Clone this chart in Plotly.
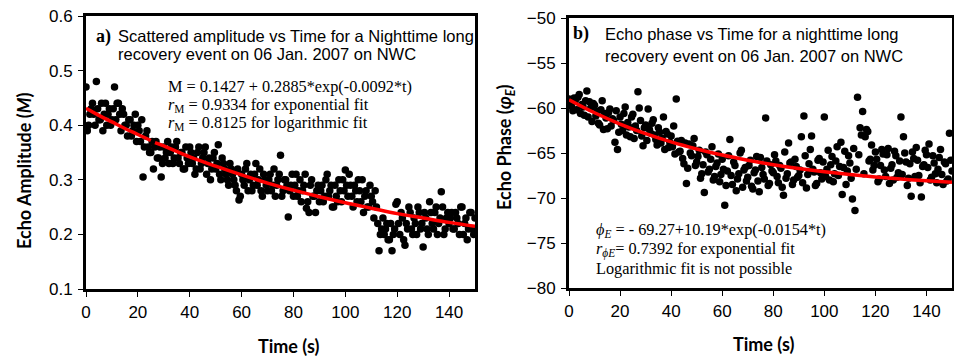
import plotly.graph_objects as go

W, H = 954, 358

# ---------------- data ----------------
# panel a: echo amplitude (set A at integer seconds, set B at half seconds)
time_a = list(range(0, 151))
amp_a = [0.47, 0.40, 0.43, 0.42, 0.48, 0.41, 0.44, 0.42, 0.40, 0.43,
         0.41, 0.47, 0.44, 0.42, 0.43, 0.40, 0.38, 0.41, 0.39, 0.42,
         0.40, 0.37, 0.305, 0.38, 0.36, 0.35, 0.32, 0.37, 0.34, 0.305,
         0.36, 0.35, 0.33, 0.36, 0.34, 0.37, 0.33, 0.35, 0.32, 0.34,
         0.36, 0.33, 0.31, 0.35, 0.32, 0.34, 0.36, 0.33, 0.30, 0.34,
         0.32, 0.364, 0.30, 0.33, 0.31, 0.29, 0.32, 0.30, 0.28, 0.263,
         0.31, 0.29, 0.33, 0.30, 0.28, 0.31, 0.29, 0.32, 0.27, 0.30,
         0.28, 0.31, 0.29, 0.27, 0.30, 0.345, 0.28, 0.30, 0.232, 0.29,
         0.27, 0.31, 0.28, 0.26, 0.29, 0.248, 0.24, 0.30, 0.27, 0.28,
         0.26, 0.29, 0.27, 0.31, 0.28, 0.25, 0.29, 0.26, 0.28, 0.30,
         0.318, 0.27, 0.29, 0.25, 0.28, 0.30, 0.26, 0.24, 0.28, 0.25,
         0.27, 0.23, 0.25, 0.17, 0.21, 0.20, 0.22, 0.19, 0.17, 0.21,
         0.26, 0.20, 0.23, 0.18, 0.21, 0.24, 0.20, 0.22, 0.25, 0.21,
         0.177, 0.23, 0.20, 0.24, 0.21, 0.25, 0.22, 0.278, 0.20, 0.23,
         0.22, 0.24, 0.21, 0.23, 0.20, 0.25, 0.22, 0.19, 0.24, 0.21, 0.23]
time_b = [t + 0.5 for t in range(0, 150)]
amp_b = [0.39, 0.42, 0.44, 0.40, 0.43, 0.41, 0.39, 0.44, 0.42, 0.40,
         0.43, 0.41, 0.44, 0.39, 0.42, 0.40, 0.41, 0.38, 0.40, 0.37,
         0.39, 0.41, 0.36, 0.39, 0.35, 0.37, 0.36, 0.34, 0.36, 0.33,
         0.34, 0.37, 0.35, 0.33, 0.36, 0.34, 0.35, 0.32, 0.36, 0.33,
         0.35, 0.34, 0.32, 0.36, 0.33, 0.35, 0.31, 0.34, 0.32, 0.35,
         0.33, 0.31, 0.34, 0.32, 0.30, 0.33, 0.31, 0.29, 0.32, 0.27,
         0.30, 0.32, 0.28, 0.31, 0.29, 0.33, 0.30, 0.28, 0.31, 0.29,
         0.30, 0.28, 0.32, 0.29, 0.31, 0.27, 0.30, 0.29, 0.28, 0.31,
         0.29, 0.27, 0.30, 0.28, 0.31, 0.26, 0.29, 0.27, 0.24, 0.29,
         0.28, 0.26, 0.30, 0.27, 0.29, 0.25, 0.27, 0.30, 0.26, 0.28,
         0.29, 0.31, 0.27, 0.29, 0.26, 0.28, 0.30, 0.27, 0.25, 0.29,
         0.26, 0.28, 0.22, 0.20, 0.23, 0.21, 0.19, 0.22, 0.20, 0.255,
         0.22, 0.24, 0.19, 0.22, 0.25, 0.21, 0.23, 0.20, 0.24, 0.22,
         0.24, 0.21, 0.26, 0.22, 0.24, 0.20, 0.23, 0.25, 0.21, 0.24,
         0.23, 0.21, 0.24, 0.22, 0.25, 0.20, 0.23, 0.21, 0.24, 0.20]

# exponential fit curve for panel a (read at sample times; small gap near t=25)
fit_t_a = [0, 5, 10, 15, 20, 25, None, 26.6, 30, 40, 50, 60, 70, 80, 90, 100, 110, 120, 130, 140, 150]
fit_m_a = [0.431, 0.418, 0.406, 0.394, 0.383, 0.372, None, 0.368, 0.362, 0.342, 0.325, 0.309,
           0.294, 0.281, 0.269, 0.258, 0.248, 0.238, 0.230, 0.222, 0.215]

# panel b: echo phase
phase_a = [-59.0, -59.8, -58.9, -60.2, -58.5, -59.6, -60.8, -58.1, -59.3, -61.5,
           -59.7, -60.4, -61.9, -59.2, -60.6, -62.3, -60.1, -61.2, -63.8, -64.6,
           -61.0, -62.5, -59.9, -61.6, -63.2, -60.7, -62.0, -58.2, -61.4, -64.2,
           -61.9, -60.1, -62.8, -61.3, -63.5, -62.2, -63.9, -61.0, -62.6, -64.4,
           -63.1, -62.0, -59.0, -64.9, -63.6, -66.2, -68.4, -64.0, -65.3, -63.4,
           -66.0, -64.7, -67.3, -69.4, -65.2, -66.8, -64.3, -67.6, -66.1, -68.2,
           -65.7, -70.8, -67.0, -63.5, -68.5, -66.4, -67.9, -65.0, -68.8, -66.6,
           -67.7, -65.8, -69.0, -66.9, -68.1, -65.5, -67.4, -61.1, -68.6, -66.3,
           -67.2, -65.9, -68.3, -66.7, -69.7, -67.8, -63.9, -66.0, -68.0, -66.5,
           -67.5, -63.2, -60.9, -68.9, -66.2, -63.1, -67.1, -68.4, -65.6, -67.9,
           -61.0, -66.8, -68.0, -65.4, -67.3, -64.3, -66.5, -69.6, -64.8, -67.0,
           -66.1, -70.1, -71.4, -58.8, -62.2, -60.4, -63.2, -62.6, -65.7, -66.9,
           -64.9, -68.2, -66.4, -65.1, -67.6, -64.5, -66.7, -68.0, -65.3, -67.2,
           -61.0, -63.2, -66.0, -67.8, -69.8, -65.6, -64.4, -67.5, -69.9, -66.3,
           -65.2, -64.0, -67.7, -66.1, -68.3, -65.5, -67.4, -66.0, -68.1, -62.8, -67.0]
phase_b = [-59.4, -60.3, -59.1, -58.8, -60.6, -59.9, -59.2, -61.0, -60.0, -59.5,
           -60.9, -61.7, -60.2, -62.4, -61.1, -60.5, -62.0, -61.4, -60.3, -62.7,
           -61.8, -60.6, -63.0, -62.1, -61.0, -63.4, -62.5, -60.0, -63.1, -62.2,
           -63.6, -62.4, -61.7, -63.0, -64.1, -62.7, -63.4, -64.6, -62.9, -63.8,
           -64.3, -65.1, -63.7, -64.8, -65.6, -63.9, -66.7, -65.0, -64.2, -66.4,
           -65.4, -67.8, -66.3, -64.9, -67.1, -65.7, -68.0, -66.5, -65.1, -67.4,
           -66.8, -68.6, -65.3, -67.5, -66.0, -69.2, -67.3, -64.7, -66.9, -68.1,
           -66.4, -68.7, -67.2, -65.4, -69.3, -66.6, -67.9, -65.9, -68.4, -67.0,
           -65.2, -67.6, -66.4, -68.8, -64.9, -67.3, -66.1, -68.5, -65.7, -67.7,
           -66.9, -68.3, -65.3, -67.4, -64.6, -66.8, -68.6, -65.8, -67.2, -66.0,
           -67.6, -64.7, -66.3, -68.2, -65.9, -67.5, -63.8, -66.6, -68.5, -65.3,
           -67.8, -64.5, -66.8, -65.2, -63.0, -67.3, -62.4, -65.9, -64.1, -66.4,
           -65.7, -67.9, -64.6, -66.9, -65.2, -68.4, -66.3, -64.8, -67.7, -65.9,
           -67.4, -65.0, -68.6, -66.2, -64.9, -67.6, -65.8, -68.3, -66.5, -64.7,
           -66.6, -68.0, -65.3, -67.3, -66.8, -64.6, -68.5, -66.2, -67.9, -65.8]

fit_t_b = [0, 10, 20, 30, 40, 50, 60, 70, 80, 90, 100, 110, 120, 130, 140, 150]
fit_p_b = [-59.08, -60.53, -61.78, -62.85, -63.77, -64.55, -65.23, -65.80, -66.30,
           -66.72, -67.09, -67.40, -67.66, -67.89, -68.09, -68.26]

x_ticks = [0, 20, 40, 60, 80, 100, 120, 140]

# ---------------- figure ----------------
def px(x):
    return x / W

def py(y):
    return 1 - y / H

fig = go.Figure()
mk = dict(color="black", size=7.5)
fig.add_trace(go.Scatter(x=time_a, y=amp_a, mode="markers", marker=mk, xaxis="x", yaxis="y"))
fig.add_trace(go.Scatter(x=time_b, y=amp_b, mode="markers", marker=mk, xaxis="x", yaxis="y"))
fig.add_trace(go.Scatter(x=fit_t_a, y=fit_m_a, mode="lines", line=dict(color="#ff0000", width=3.5, shape="spline"),
                         connectgaps=False, xaxis="x", yaxis="y"))
fig.add_trace(go.Scatter(x=time_a, y=phase_a, mode="markers", marker=mk, xaxis="x2", yaxis="y2"))
fig.add_trace(go.Scatter(x=time_b, y=phase_b, mode="markers", marker=mk, xaxis="x2", yaxis="y2"))
fig.add_trace(go.Scatter(x=fit_t_b, y=fit_p_b, mode="lines", line=dict(color="#ff0000", width=3.5, shape="spline"),
                         xaxis="x2", yaxis="y2"))

tickfont = dict(family="Liberation Sans, Arial", size=17, color="black")
common_x = dict(range=[0, 150], tickvals=x_ticks, ticks="outside", ticklen=5, tickwidth=1, tickcolor="black",
                showline=True, linewidth=3, linecolor="black", mirror=True, showgrid=False, zeroline=False,
                tickfont=tickfont, ticklabelstandoff=1, automargin=False)
common_y = dict(ticks="outside", ticklen=5, tickwidth=1, tickcolor="black",
                showline=True, linewidth=3, linecolor="black", mirror=True, showgrid=False, zeroline=False,
                tickfont=tickfont, ticklabelstandoff=2, automargin=False)

fig.update_layout(
    template="none",
    width=W, height=H, margin=dict(l=0, r=0, t=0, b=0, pad=0),
    paper_bgcolor="white", plot_bgcolor="white", showlegend=False,
    xaxis=dict(domain=[px(86), px(475)], anchor="y", **common_x),
    yaxis=dict(domain=[py(289), py(16)], anchor="x", range=[0.1, 0.6], dtick=0.1, tickformat=".1f", **common_y),
    xaxis2=dict(domain=[px(569), px(952)], anchor="y2", **common_x),
    yaxis2=dict(domain=[py(288), py(18)], anchor="x2", range=[-80, -50], dtick=5, **common_y),
)

sans = "Liberation Sans, Arial"
serif = "Liberation Serif, Times New Roman"
label_font = dict(family="Lato, Calibri", size=18, color="black")
title_font = dict(family=sans, size=16.5, color="black")
eq = dict(family=serif, size=16.3, color="black")

def ann(text, x, y, font, xanchor="left", angle=0):
    fig.add_annotation(text=text, x=px(x), y=py(y), xref="paper", yref="paper", showarrow=False,
                       xanchor=xanchor, yanchor="middle", font=font, textangle=angle)

# panel a texts
ann("<b>a)</b>", 94, 36, dict(family=serif, size=18, color="black"))
ann("Scattered amplitude vs Time for a Nighttime long", 116, 36, title_font)
ann("recovery event on 06 Jan. 2007 on NWC", 116, 54, title_font)
ann("M = 0.1427 + 0.2885*exp(-0.0092*t)", 166, 86, eq)
ann("<i>r</i><sub>M</sub> = 0.9334 for exponential fit", 166, 105, eq)
ann("<i>r</i><sub>M</sub> = 0.8125 for logarithmic fit", 166, 123, eq)

# panel b texts
ann("<b>b)</b>", 571, 34, dict(family=serif, size=18, color="black"))
ann("Echo phase vs Time for a nighttime long", 603, 34, title_font)
ann("recovery event on 06 Jan. 2007 on NWC", 603, 56, title_font)
ann("<i>ϕ<sub>E</sub></i> = - 69.27+10.19*exp(-0.0154*t)", 594, 230, eq)
ann("<i>r</i><sub><i>ϕE</i></sub>= 0.7392 for exponential fit", 594, 249, eq)
ann("Logarithmic fit is not possible", 594, 268, eq)

# axis titles
ann("<b>Echo Amplitude (<i>M</i>)</b>", 24, 171, label_font, xanchor="center", angle=-90)
ann("<b>Echo Phase (<i>φ<sub>E</sub></i>)</b>", 505, 147, label_font, xanchor="center", angle=-90)
ann("<b>Time (s)</b>", 288, 346, label_font, xanchor="center")
ann("<b>Time (s)</b>", 763, 344, label_font, xanchor="center")

fig.write_html("out.html", config={"displayModeBar": False, "staticPlot": True},
               post_script="document.body.style.margin='0';document.body.style.overflow='hidden';")
